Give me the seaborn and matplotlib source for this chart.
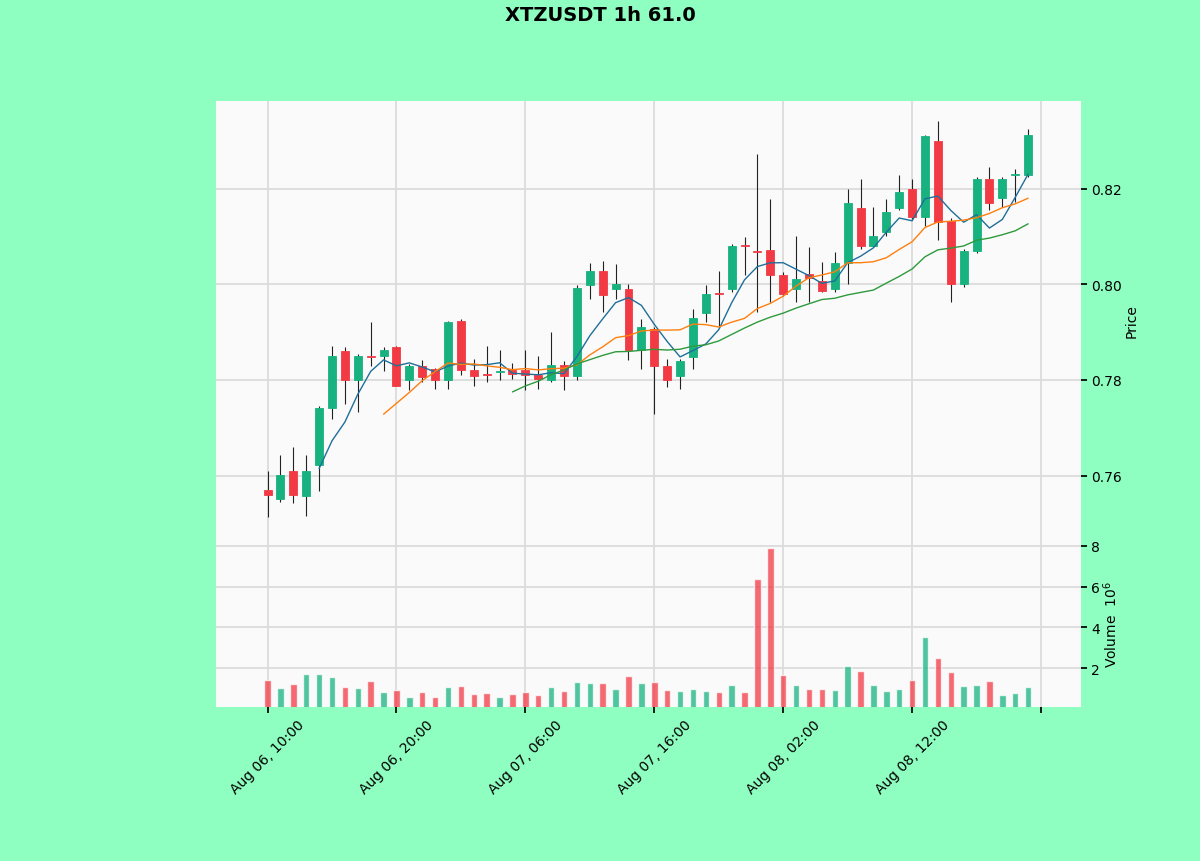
import numpy as np
import pandas as pd
import matplotlib
matplotlib.use("Agg")
import matplotlib.pyplot as plt
import seaborn as sns

# hourly candles
opens = [0.7570, 0.7550, 0.7609, 0.7558, 0.7621, 0.7741, 0.7860, 0.7799, 0.7851, 0.7851,
         0.7869, 0.7799, 0.7830, 0.7823, 0.7799, 0.7924, 0.7820, 0.7812, 0.7817, 0.7821,
         0.7820, 0.7811, 0.7799, 0.7832, 0.7809, 0.7999, 0.8029, 0.7991, 0.7991, 0.7862,
         0.7906, 0.7830, 0.7809, 0.7848, 0.7940, 0.7981, 0.7991, 0.8082, 0.8070, 0.8071,
         0.8019, 0.7991, 0.8022, 0.8008, 0.7991, 0.8045, 0.8160, 0.8080, 0.8109, 0.8160,
         0.8200, 0.8141, 0.8301, 0.8132, 0.8001, 0.8069, 0.8220, 0.8181, 0.8230, 0.8229]
highs = [0.7609, 0.7642, 0.7659, 0.7643, 0.7745, 0.7872, 0.7869, 0.7855, 0.7922, 0.7869,
         0.7872, 0.7833, 0.7841, 0.7826, 0.7924, 0.7928, 0.7844, 0.7872, 0.7862, 0.7836,
         0.7862, 0.7850, 0.7900, 0.7840, 0.7999, 0.8045, 0.8050, 0.8043, 0.8001, 0.7928,
         0.7911, 0.7844, 0.7844, 0.7949, 0.7998, 0.8029, 0.8085, 0.8099, 0.8273, 0.8179,
         0.8025, 0.8102, 0.8078, 0.8047, 0.8068, 0.8200, 0.8221, 0.8162, 0.8179, 0.8229,
         0.8221, 0.8312, 0.8343, 0.8140, 0.8075, 0.8225, 0.8245, 0.8225, 0.8242, 0.8326]
lows = [0.7513, 0.7544, 0.7543, 0.7516, 0.7567, 0.7719, 0.7750, 0.7733, 0.7830, 0.7818,
        0.7788, 0.7778, 0.7795, 0.7781, 0.7781, 0.7811, 0.7788, 0.7795, 0.7799, 0.7803,
        0.7778, 0.7781, 0.7795, 0.7780, 0.7799, 0.7970, 0.7942, 0.7970, 0.7841, 0.7823,
        0.7729, 0.7785, 0.7781, 0.7823, 0.7921, 0.7911, 0.7985, 0.8019, 0.7942, 0.7963,
        0.7975, 0.7963, 0.7963, 0.7985, 0.7985, 0.8001, 0.8075, 0.8078, 0.8102, 0.8155,
        0.8137, 0.8123, 0.8092, 0.7963, 0.7995, 0.8065, 0.8155, 0.8162, 0.8172, 0.8225]
closes = [0.7560, 0.7602, 0.7560, 0.7609, 0.7742, 0.7850, 0.7799, 0.7850, 0.7849, 0.7862,
          0.7788, 0.7830, 0.7806, 0.7799, 0.7922, 0.7820, 0.7809, 0.7810, 0.7819, 0.7813,
          0.7811, 0.7801, 0.7832, 0.7809, 0.7992, 0.8029, 0.7978, 0.8001, 0.7862, 0.7911,
          0.7830, 0.7799, 0.7839, 0.7929, 0.7980, 0.7979, 0.8080, 0.8080, 0.8068, 0.8019,
          0.7980, 0.8012, 0.8013, 0.7987, 0.8045, 0.8170, 0.8080, 0.8101, 0.8151, 0.8193,
          0.8141, 0.8310, 0.8130, 0.8001, 0.8069, 0.8220, 0.8170, 0.8220, 0.8232, 0.8312]
# volume in millions
volumes = [1.43, 1.02, 1.22, 1.71, 1.71, 1.58, 1.06, 1.02, 1.35, 0.83,
           0.94, 0.57, 0.85, 0.57, 1.06, 1.14, 0.75, 0.78, 0.57, 0.75,
           0.81, 0.70, 1.07, 0.88, 1.32, 1.27, 1.27, 0.99, 1.62, 1.27,
           1.30, 0.93, 0.86, 0.98, 0.89, 0.85, 1.17, 0.85, 6.36, 7.89,
           1.66, 1.17, 0.98, 0.98, 0.93, 2.10, 1.85, 1.19, 0.88, 0.96,
           1.43, 3.51, 2.49, 1.82, 1.14, 1.19, 1.37, 0.70, 0.78, 1.07]

dates = pd.date_range("2021-08-06 10:00", periods=len(closes), freq="h")
mav = [5, 10, 20]

up_col = "#17b27f"
down_col = "#f23a45"
ma_cols = ["#1f6f9a", "#ff7f0e", "#2e9a3c"]
bg = "#8fffc1"

df = pd.DataFrame({"open": opens, "high": highs, "low": lows, "close": closes, "vol": volumes})
df["idx"] = np.arange(len(df))
df["dir"] = np.where(df["close"] >= df["open"], "up", "down")
for m in mav:
    df[f"ma{m}"] = df["close"].rolling(m).mean()

sns.set_theme(style="whitegrid")
plt.rcParams["font.family"] = ["DejaVu Sans"]
plt.rcParams["text.color"] = "black"
plt.rcParams["axes.labelcolor"] = "black"

fig = plt.figure(figsize=(12, 8.62), dpi=100, facecolor=bg)
ax = fig.add_axes([0.18, 0.3724, 0.7208, 0.5093])
axv = fig.add_axes([0.18, 0.1787, 0.7208, 0.1937], sharex=ax)

# candles
colors = [up_col if d == "up" else down_col for d in df["dir"]]
ax.vlines(df["idx"], df["low"], df["high"], color="#222222", lw=0.8, zorder=2)
body_lo = np.minimum(df["open"], df["close"])
body_h = np.maximum(np.abs(df["close"] - df["open"]), 0.00008)
ax.bar(df["idx"], body_h, bottom=body_lo, width=0.62, color=colors,
       edgecolor=colors, lw=0.6, zorder=3)

for m, c in zip(mav, ma_cols):
    sns.lineplot(data=df, x="idx", y=f"ma{m}", ax=ax, color=c, lw=1.0, zorder=4)

# volume
sns.barplot(data=df, x="idx", y="vol", hue="dir", palette={"up": up_col, "down": down_col},
            native_scale=True, dodge=False, width=0.5, alpha=0.75, saturation=1,
            errorbar=None, legend=False, ax=axv)

for a in (ax, axv):
    a.set_facecolor("#fafafa")
    a.grid(True, color="#dcdcdc", lw=1.3)
    for s in a.spines.values():
        s.set_visible(False)
    a.yaxis.tick_right()
    a.yaxis.set_label_position("right")
    a.tick_params(axis="y", which="both", length=4, labelsize=10, colors="black", right=True)

ax.set_ylim(0.7465, 0.8384)
ax.set_yticks([0.76, 0.78, 0.80, 0.82])
ax.set_yticklabels(["0.76", "0.78", "0.80", "0.82"])
ax.set_ylabel("Price", fontsize=10, labelpad=2)
ax.set_xlabel("")
ax.tick_params(axis="x", length=0, labelbottom=False)

axv.set_ylim(0.1, 8.28)
axv.set_yticks([2, 4, 6, 8])
axv.set_ylabel("Volume  $10^{6}$", fontsize=10, labelpad=1)
axv.set_xlabel("")

ticks = list(range(0, 61, 10))
labels = [dates[t].strftime("%b %d, %H:%M") if t < len(dates) else "" for t in ticks]
axv.set_xticks(ticks)
axv.set_xticklabels(labels, rotation=45, fontsize=10)
axv.tick_params(axis="x", bottom=True, length=4, colors="black", labelsize=10)
axv.set_xlim(-4.0, 63.1)

fig.suptitle("XTZUSDT 1h 61.0", fontsize=14, fontweight="bold", y=0.993)

fig.savefig("out.png", dpi=100, facecolor=bg)
